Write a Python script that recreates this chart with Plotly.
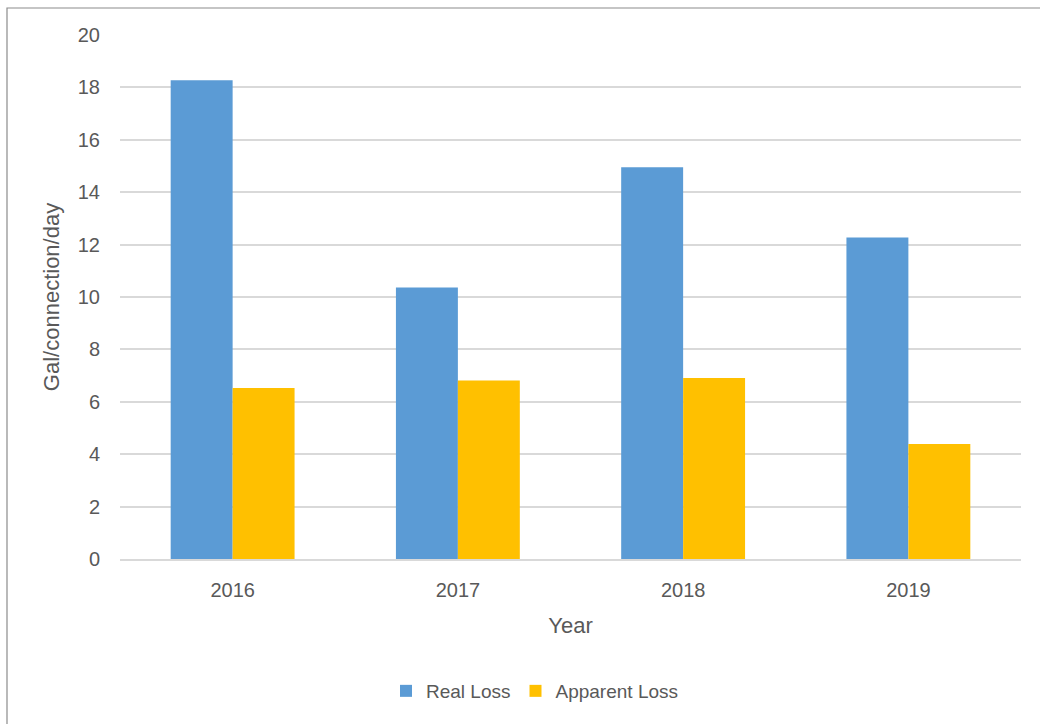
import plotly.graph_objects as go

years = ["2016", "2017", "2018", "2019"]
real_loss = [18.27, 10.36, 14.95, 12.27]
apparent_loss = [6.53, 6.81, 6.91, 4.39]
y_ticks = [0, 2, 4, 6, 8, 10, 12, 14, 16, 18, 20]

W, H = 1040, 724
L, R, T, B = 120, 19, 35, 165
pw, ph = W - L - R, H - T - B

font = "Liberation Sans, Arial, sans-serif"
gray = "#595959"

fig = go.Figure()
fig.add_trace(go.Bar(x=years, y=real_loss, name="Real Loss",
                     marker=dict(color="#5b9bd5", line=dict(width=0))))
fig.add_trace(go.Bar(x=years, y=apparent_loss, name="Apparent Loss",
                     marker=dict(color="#ffc000", line=dict(width=0))))

def px_x(p):
    return (p - L) / pw

def px_y(p):
    return (H - B - p) / ph

fig.update_layout(
    width=W, height=H,
    margin=dict(l=L, r=R, t=T, b=B),
    paper_bgcolor="white", plot_bgcolor="white",
    barmode="group", bargap=0.45, bargroupgap=0,
    font=dict(family=font, size=20, color=gray),
    showlegend=True,
    legend=dict(orientation="h", x=px_x(535), xanchor="center",
                y=px_y(691), yanchor="middle",
                font=dict(size=19, color=gray), itemwidth=30,
                traceorder="normal"),
    xaxis=dict(showgrid=False, showline=True, linecolor="#d9d9d9", linewidth=1.5,
               ticks="", ticklabelstandoff=12, tickfont=dict(size=20, color=gray),
               title=dict(text="Year", font=dict(size=22, color=gray), standoff=18)),
    yaxis=dict(range=[0, 20], tickvals=y_ticks, showgrid=True,
               gridcolor="#d9d9d9", gridwidth=1.5, zeroline=False,
               showline=False, ticks="", ticklabelstandoff=19,
               tickfont=dict(size=20, color=gray),
               title=dict(text="Gal/connection/day", font=dict(size=22, color=gray), standoff=12)),
    shapes=[dict(type="rect", xref="paper", yref="paper",
                 x0=px_x(7), x1=px_x(1045), y0=px_y(730), y1=px_y(8),
                 line=dict(color="#8c8c8c", width=1.2), fillcolor="rgba(0,0,0,0)",
                 layer="below")],
)

fig.write_html("out.html", config={"displayModeBar": False},
               post_script="document.body.style.margin='0px';")
